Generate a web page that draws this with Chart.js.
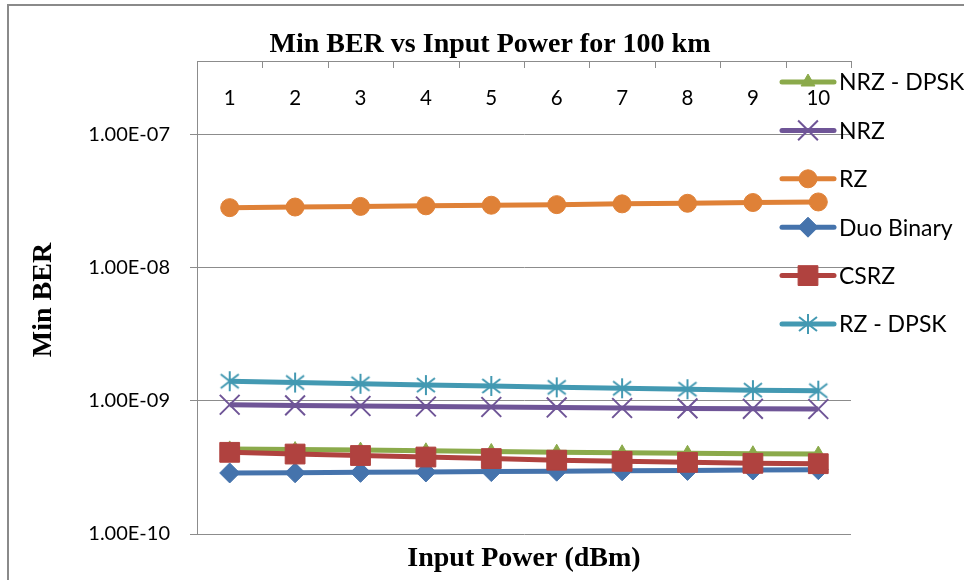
<!DOCTYPE html>
<html>
<head>
<meta charset="utf-8">
<title>Min BER vs Input Power for 100 km</title>
<script src="https://cdn.jsdelivr.net/npm/chart.js@4.4.1/dist/chart.umd.min.js"></script>
<style>
  html, body { margin: 0; padding: 0; background: #ffffff; }
  #wrap { width: 964px; height: 580px; position: relative; }
</style>
</head>
<body>
<div id="wrap"><canvas id="chart" width="964" height="580"></canvas></div>
<script>
// Input power steps (dBm)
const powerLabels = ['1', '2', '3', '4', '5', '6', '7', '8', '9', '10'];

// Minimum BER per modulation format
const nrzDpsk  = [4.35e-10, 4.30e-10, 4.26e-10, 4.21e-10, 4.16e-10, 4.11e-10, 4.07e-10, 4.03e-10, 4.00e-10, 3.98e-10];
const nrz      = [9.33e-10, 9.22e-10, 9.13e-10, 9.05e-10, 8.97e-10, 8.90e-10, 8.82e-10, 8.76e-10, 8.70e-10, 8.67e-10];
const rz       = [2.81e-8, 2.84e-8, 2.87e-8, 2.90e-8, 2.93e-8, 2.96e-8, 3.00e-8, 3.03e-8, 3.07e-8, 3.10e-8];
const duoBinary= [2.87e-10, 2.88e-10, 2.90e-10, 2.92e-10, 2.94e-10, 2.96e-10, 2.98e-10, 3.00e-10, 3.02e-10, 3.04e-10];
const csrz     = [4.10e-10, 3.98e-10, 3.88e-10, 3.78e-10, 3.68e-10, 3.58e-10, 3.51e-10, 3.45e-10, 3.39e-10, 3.37e-10];
const rzDpsk   = [1.40e-9, 1.37e-9, 1.34e-9, 1.31e-9, 1.29e-9, 1.26e-9, 1.24e-9, 1.22e-9, 1.20e-9, 1.19e-9];

// Log axis decades and their labels
const yTickValues = [1e-10, 1e-9, 1e-8, 1e-7];
const yTickLabels = ['1.00E-10', '1.00E-09', '1.00E-08', '1.00E-07'];

const seriesNames = ['NRZ - DPSK', 'NRZ', 'RZ', 'Duo Binary', 'CSRZ', 'RZ - DPSK'];

// asterisk marker: an X crossed by a vertical stroke
function makeAsterisk(color) {
  const c = document.createElement('canvas');
  c.width = 22; c.height = 22;
  const g = c.getContext('2d');
  g.strokeStyle = color;
  g.lineWidth = 2;
  g.beginPath();
  g.moveTo(11, 1); g.lineTo(11, 21);
  g.moveTo(2, 4);  g.lineTo(20, 18);
  g.moveTo(2, 18); g.lineTo(20, 4);
  g.stroke();
  return c;
}

const GREEN = '#8BAA4B', PURPLE = '#6F5597', ORANGE = '#DF8137',
      BLUE = '#4573AC', RED = '#B0423F', CYAN = '#4399B2';

function series(label, data, color, style, radius, order, pbw) {
  return {
    label, data,
    borderColor: color,
    backgroundColor: color,
    borderWidth: 5,
    pointStyle: style,
    pointRadius: radius,
    pointHoverRadius: radius,
    pointBackgroundColor: color,
    pointBorderColor: color,
    pointBorderWidth: pbw,
    tension: 0,
    order
  };
}

const datasets = [
  series(seriesNames[0], nrzDpsk, GREEN, 'triangle', 8, 6, 1),
  series(seriesNames[1], nrz, PURPLE, 'crossRot', 14, 5, 2),
  series(seriesNames[2], rz, ORANGE, 'circle', 9, 4, 1),
  series(seriesNames[3], duoBinary, BLUE, 'rectRot', 10, 3, 1),
  series(seriesNames[4], csrz, RED, 'rect', 14, 2, 1),
  series(seriesNames[5], rzDpsk, CYAN, makeAsterisk(CYAN), 11, 1, 2)
];

const GRID = '#8C8C8C';
const SERIF = '"Liberation Serif", "Times New Roman", serif';
const SANS = 'Lato, "Noto Sans", sans-serif';

// frame, category tick marks, titles and the series key
const decorations = {
  id: 'decorations',
  beforeDraw(chart) {
    const ctx = chart.ctx;
    ctx.save();
    ctx.strokeStyle = '#8A8A8A';
    ctx.lineWidth = 2;
    ctx.beginPath();
    ctx.moveTo(8, 580);
    ctx.lineTo(8, 5);
    ctx.lineTo(964, 5);
    ctx.stroke();
    ctx.restore();
  },
  afterDraw(chart) {
    const ctx = chart.ctx;
    const xs = chart.scales.x;
    const area = chart.chartArea;
    ctx.save();

    // inward tick marks on the top category axis, between categories
    ctx.strokeStyle = GRID;
    ctx.lineWidth = 1;
    ctx.beginPath();
    const n = powerLabels.length;
    const step = xs.getPixelForValue(1) - xs.getPixelForValue(0);
    for (let i = 0; i <= n; i++) {
      const x = Math.round(xs.getPixelForValue(0) - step / 2 + i * step) + 0.5;
      ctx.moveTo(x, area.top);
      ctx.lineTo(x, area.top + 7);
    }
    ctx.stroke();

    ctx.fillStyle = '#000';
    ctx.font = 'bold 28px ' + SERIF;
    ctx.textAlign = 'center';
    ctx.textBaseline = 'alphabetic';
    ctx.fillText('Min BER vs Input Power for 100 km', 490, 52);
    ctx.fillText('Input Power (dBm)', 524, 566);
    ctx.save();
    ctx.translate(51, 300);
    ctx.rotate(-Math.PI / 2);
    ctx.fillText('Min BER', 0, 0);
    ctx.restore();

    // key
    const rowY0 = 82, rowGap = 48.4;
    chart.data.datasets.forEach((ds, i) => {
      const y = rowY0 + i * rowGap;
      ctx.strokeStyle = ds.borderColor;
      ctx.lineWidth = 5;
      ctx.lineCap = 'round';
      ctx.beginPath();
      ctx.moveTo(782, y);
      ctx.lineTo(834, y);
      ctx.stroke();
      ctx.lineCap = 'butt';
      ctx.fillStyle = ds.pointBackgroundColor;
      ctx.strokeStyle = ds.pointBorderColor;
      ctx.lineWidth = ds.pointBorderWidth;
      Chart.helpers.drawPoint(ctx, {
        pointStyle: ds.pointStyle,
        radius: ds.pointRadius,
        rotation: 0,
        borderWidth: ds.pointBorderWidth
      }, 808, y);
      ctx.fillStyle = '#000';
      ctx.font = '23px ' + SANS;
      ctx.textAlign = 'left';
      ctx.textBaseline = 'middle';
      ctx.fillText(ds.label, 839, y + 1);
    });
    ctx.restore();
  }
};

new Chart(document.getElementById('chart'), {
  type: 'line',
  data: { labels: powerLabels, datasets },
  plugins: [decorations],
  options: {
    responsive: false,
    animation: false,
    events: [],
    layout: { padding: { left: 0, top: 0, right: 113, bottom: 46 } },
    plugins: {
      legend: { display: false },
      title: { display: false },
      tooltip: { enabled: false }
    },
    scales: {
      x: {
        type: 'category',
        position: 'top',
        offset: true,
        grid: {
          offset: true,
          drawOnChartArea: false,
          drawTicks: false,
          color: GRID,
          lineWidth: 1
        },
        border: { display: true, color: GRID, width: 1 },
        ticks: {
          mirror: true,
          padding: 25,
          autoSkip: false,
          maxRotation: 0,
          color: '#000',
          font: { family: SANS, size: 20.5 }
        },
        afterFit(scale) { scale.height = 61; }
      },
      y: {
        type: 'logarithmic',
        position: 'left',
        min: 1e-10,
        max: 3.54e-7,
        grid: {
          color: GRID,
          lineWidth: 1,
          tickLength: 7,
          drawTicks: true
        },
        border: { display: true, color: GRID, width: 1 },
        ticks: {
          padding: 20,
          color: '#000',
          font: { family: SANS, size: 20 },
          callback(value) {
            const i = yTickValues.findIndex(v => Math.abs(Math.log10(v) - Math.log10(value)) < 1e-6);
            return i >= 0 ? yTickLabels[i] : '';
          }
        },
        afterBuildTicks(scale) {
          scale.ticks = yTickValues.map(v => ({ value: v }));
        },
        afterFit(scale) { scale.width = 197; }
      }
    }
  }
});
</script>
</body>
</html>
